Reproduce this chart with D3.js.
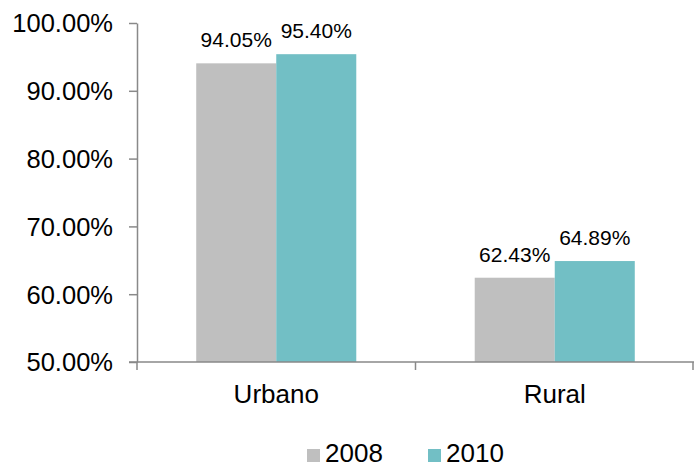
<!DOCTYPE html>
<html>
<head>
<meta charset="utf-8">
<script src="https://cdn.jsdelivr.net/npm/d3@7"></script>
<style>
  body { margin: 0; background: #fff; }
  svg text { font-family: "Liberation Sans", Arial, sans-serif; fill: #000; }
</style>
</head>
<body>
<script>
// chart data
var categories = ["Urbano", "Rural"];
var seriesNames = ["2008", "2010"];
var values2008 = [0.9405, 0.6243];
var values2010 = [0.9540, 0.6489];
var yTicks = [0.5, 0.6, 0.7, 0.8, 0.9, 1.0];
var colors = ["#bfbfbf", "#72bfc5"];

var width = 694, height = 468;
var axisColor = "#898989";

var svg = d3.select("body").append("svg")
    .attr("width", width)
    .attr("height", height);

var x0 = d3.scaleBand()
    .domain(categories)
    .range([137, 694]);

var x1 = d3.scaleBand()
    .domain(seriesNames)
    .range([0, x0.bandwidth()])
    .paddingOuter(0.74);

var y = d3.scaleLinear()
    .domain([0.5, 1.0])
    .range([362, 23]);

var color = d3.scaleOrdinal().domain(seriesNames).range(colors);

// table built from the arrays
var rows = categories.map(function (c, i) {
    return { cat: c, vals: [
        { s: "2008", v: values2008[i] },
        { s: "2010", v: values2010[i] }
    ] };
});

// bars
var groups = svg.selectAll(".grp")
    .data(rows)
    .enter().append("g")
    .attr("class", "grp")
    .attr("transform", function (d) { return "translate(" + x0(d.cat) + ",0)"; });

groups.selectAll("rect")
    .data(function (d) { return d.vals; })
    .enter().append("rect")
    .attr("x", function (d) { return x1(d.s); })
    .attr("width", x1.bandwidth())
    .attr("y", function (d) { return y(d.v); })
    .attr("height", function (d) { return y(0.5) - y(d.v); })
    .attr("fill", function (d) { return color(d.s); });

groups.selectAll(".lbl")
    .data(function (d) { return d.vals; })
    .enter().append("text")
    .attr("class", "lbl")
    .attr("x", function (d) { return x1(d.s) + x1.bandwidth() / 2; })
    .attr("y", function (d) { return y(d.v) - 16; })
    .attr("text-anchor", "middle")
    .style("font-size", "21px")
    .text(function (d) { return d3.format(".2%")(d.v); });

// y axis
var yAxis = svg.append("g")
    .attr("transform", "translate(137,0)")
    .call(d3.axisLeft(y)
        .tickValues(yTicks)
        .tickFormat(d3.format(".2%"))
        .tickSize(8)
        .tickSizeOuter(0)
        .tickPadding(16));
yAxis.select(".domain").attr("stroke", axisColor).attr("stroke-width", 1.5);
yAxis.selectAll(".tick line").attr("stroke", axisColor).attr("stroke-width", 1.5);
yAxis.selectAll(".tick text")
    .style("font-size", "25.5px")
    .attr("dy", "0.35em");

// x axis: line with ticks between categories
var xg = svg.append("g").attr("transform", "translate(0," + y(0.5) + ")");
xg.append("line")
    .attr("x1", 129).attr("x2", x0.range()[1])
    .attr("stroke", axisColor).attr("stroke-width", 1.5);
var bounds = categories.map(function (c) { return x0(c); }).concat([x0.range()[1] - 1]);
xg.selectAll(".xt")
    .data(bounds)
    .enter().append("line")
    .attr("class", "xt")
    .attr("x1", function (d) { return d; })
    .attr("x2", function (d) { return d; })
    .attr("y1", 0).attr("y2", 8)
    .attr("stroke", axisColor).attr("stroke-width", 1.5);
xg.selectAll(".xl")
    .data(categories)
    .enter().append("text")
    .attr("class", "xl")
    .attr("x", function (d) { return x0(d) + x0.bandwidth() / 2; })
    .attr("y", 41)
    .attr("text-anchor", "middle")
    .style("font-size", "26px")
    .text(function (d) { return d; });

// legend
var legendX = [307, 428];
var legend = svg.selectAll(".leg")
    .data(seriesNames)
    .enter().append("g")
    .attr("class", "leg")
    .attr("transform", function (d, i) { return "translate(" + legendX[i] + ",449)"; });
legend.append("rect")
    .attr("width", 13).attr("height", 13)
    .attr("fill", function (d) { return color(d); });
legend.append("text")
    .attr("x", 18)
    .attr("y", 13)
    .style("font-size", "26px")
    .text(function (d) { return d; });
</script>
</body>
</html>
